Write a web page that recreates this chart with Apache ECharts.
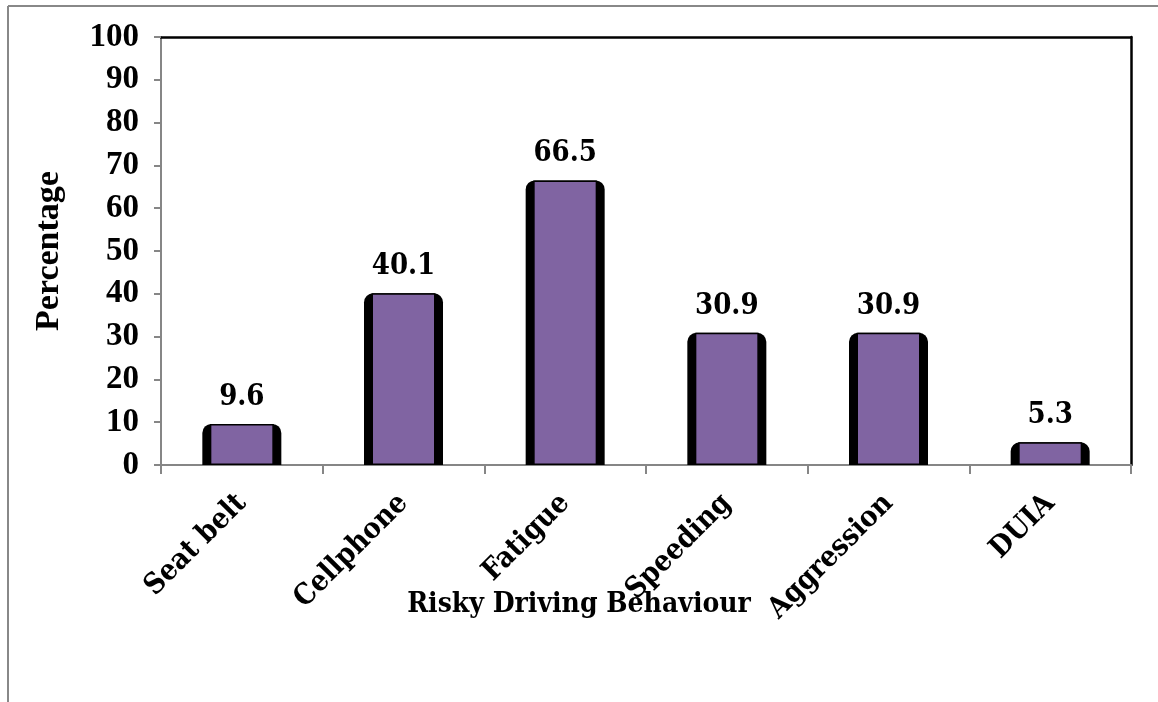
<!DOCTYPE html>
<html>
<head>
<meta charset="utf-8">
<script src="https://cdn.jsdelivr.net/npm/echarts@6/dist/echarts.min.js"></script>
<style>
html,body{margin:0;padding:0;background:#fff;}
#chart{width:1158px;height:702px;}
</style>
</head>
<body>
<div id="chart"></div>
<script>
const categories = ['Seat belt', 'Cellphone', 'Fatigue', 'Speeding', 'Aggression', 'DUIA'];
const percentages = [9.6, 40.1, 66.5, 30.9, 30.9, 5.3];
const yTicks = [0, 10, 20, 30, 40, 50, 60, 70, 80, 90, 100];
const xTitle = 'Risky Driving Behaviour';
const yTitle = 'Percentage';

const serifC = "DejaVu Serif Condensed, DejaVu Serif, serif";
const serifT = "Liberation Serif";

const chart = echarts.init(document.getElementById('chart'), null, {renderer: 'canvas'});
chart.setOption({
  animation: false,
  backgroundColor: '#ffffff',
  title: {
    text: xTitle,
    left: 'center',
    top: 586,
    textStyle: {fontFamily: serifC, fontWeight: 'bold', fontSize: 28, color: '#000'}
  },
  graphic: [
    {type: 'line', shape: {x1: 8, y1: 6, x2: 8, y2: 702}, style: {stroke: '#888888', lineWidth: 2}},
    {type: 'line', shape: {x1: 8, y1: 6, x2: 1158, y2: 6}, style: {stroke: '#888888', lineWidth: 2}}
  ],
  grid: {left: 161, top: 37, right: 27, bottom: 237, containLabel: false},
  xAxis: [
    {
      type: 'category',
      data: categories,
      position: 'bottom',
      boundaryGap: true,
      axisLine: {show: true, onZero: false, lineStyle: {color: '#868686', width: 2}},
      axisTick: {show: true, alignWithLabel: false, length: 9, lineStyle: {color: '#868686', width: 2}},
      axisLabel: {
        interval: 0, rotate: 45, margin: 34,
        fontFamily: serifC, fontWeight: 'bold', fontSize: 29, color: '#000'
      },
      splitLine: {show: false}
    },
    {
      type: 'category',
      data: categories,
      position: 'top',
      boundaryGap: true,
      axisLine: {show: true, onZero: false, lineStyle: {color: '#000', width: 2.5}},
      axisTick: {show: false},
      axisLabel: {show: false},
      splitLine: {show: false}
    }
  ],
  yAxis: [
    {
      type: 'value',
      min: yTicks[0], max: yTicks[yTicks.length - 1], interval: 10,
      name: yTitle,
      nameLocation: 'middle',
      nameGap: 95,
      nameRotate: 90,
      nameTextStyle: {fontFamily: serifT, fontWeight: 'bold', fontSize: 34, color: '#000'},
      axisLine: {show: true, onZero: false, lineStyle: {color: '#868686', width: 2}},
      axisTick: {show: true, inside: false, length: 7, lineStyle: {color: '#868686', width: 2}},
      axisLabel: {margin: 22, fontFamily: serifT, fontWeight: 'bold', fontSize: 33, color: '#000'},
      splitLine: {show: false}
    },
    {
      type: 'value',
      position: 'right',
      min: yTicks[0], max: yTicks[yTicks.length - 1], interval: 10,
      axisLine: {show: true, onZero: false, lineStyle: {color: '#000', width: 2.5}},
      axisTick: {show: false},
      axisLabel: {show: false},
      splitLine: {show: false}
    }
  ],
  series: [
    {
      type: 'bar',
      data: percentages,
      xAxisIndex: 0,
      yAxisIndex: 0,
      barWidth: 79,
      z: 2,
      itemStyle: {color: '#000000', borderRadius: [9, 9, 0, 0]},
      silent: true
    },
    {
      type: 'bar',
      data: percentages,
      xAxisIndex: 1,
      yAxisIndex: 0,
      barWidth: 64,
      z: 3,
      itemStyle: {color: '#8064A2', borderColor: '#000', borderWidth: 1.5},
      label: {
        show: true, position: 'top', distance: 12,
        fontFamily: serifC, fontWeight: 'bold', fontSize: 29, color: '#000'
      }
    }
  ]
});
</script>
</body>
</html>
